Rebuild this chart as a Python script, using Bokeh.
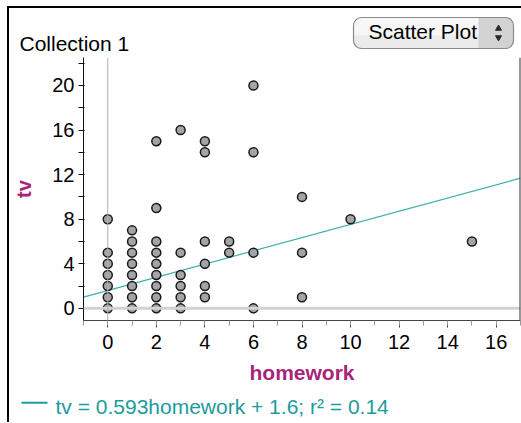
from bokeh.plotting import figure
from bokeh.layouts import column, row
from bokeh.models import Range1d, FixedTicker, Span
from bokeh.core.properties import value
from bokeh.embed import file_html
from bokeh.resources import INLINE

# ---- data ----
homework = [0, 0, 0, 0, 0, 0, 0,
            1, 1, 1, 1, 1, 1, 1, 1,
            2, 2, 2, 2, 2, 2, 2, 2, 2,
            3, 3, 3, 3, 3, 3,
            4, 4, 4, 4, 4, 4,
            5, 5,
            6, 6, 6, 6,
            8, 8, 8,
            10,
            15]
tv = [0, 1, 2, 3, 4, 5, 8,
      0, 1, 2, 3, 4, 5, 6, 7,
      0, 1, 2, 3, 4, 5, 6, 9, 15,
      0, 1, 2, 3, 5, 16,
      1, 2, 4, 6, 14, 15,
      5, 6,
      0, 5, 14, 20,
      1, 5, 10,
      8,
      6]
slope = 0.593
intercept = 1.6
r2 = 0.14
x_ticks = [0, 2, 4, 6, 8, 10, 12, 14, 16]
y_ticks = [0, 4, 8, 12, 16, 20]
collection_name = "Collection 1"
plot_type = "Scatter Plot"

X0, X1 = -1.0, 17.0
Y0, Y1 = -1.09, 22.51

FONT = "Liberation Sans"
MAGENTA = "#a8247a"
TEAL = "#1c9c9c"
W = 512


def blank(height):
    f = figure(width=W, height=height, x_range=Range1d(0, W), y_range=Range1d(0, height),
               x_axis_type=None, y_axis_type=None, output_backend="svg",
               toolbar_location=None, min_border_left=0, min_border_right=0,
               min_border_top=0, min_border_bottom=0)
    f.outline_line_color = None
    return f


# ---- header (collection name + plot type menu) ----
h = blank(49)
h.text(x=[10], y=[14.5], text=[collection_name], text_font=value(FONT),
       text_font_size="21px", text_color="black", text_baseline="middle")
h.quad(left=[344], right=[504], bottom=[9], top=[40], fill_color="#f6f6f6",
       line_color=None, border_radius=8)
h.quad(left=[344], right=[504], bottom=[9], top=[22], fill_color="#ebebeb",
       line_color=None, border_radius=(0, 0, 8, 8))
h.quad(left=[469], right=[504], bottom=[9], top=[40], fill_color="#d2d2d2",
       line_color=None, border_radius=(0, 8, 8, 0))
h.quad(left=[344], right=[504], bottom=[9], top=[40], fill_alpha=0,
       line_color="#8a8a8a", line_width=1.2, border_radius=8)
h.text(x=[359], y=[26.2], text=[plot_type], text_font=value(FONT),
       text_font_size="21px", text_color="black", text_baseline="middle")
h.scatter(x=[489], y=[29], marker="triangle", size=6, color="#2a2a2a")
h.scatter(x=[489], y=[20], marker="inverted_triangle", size=6, color="#2a2a2a")

# ---- main plot ----
p = figure(frame_width=437, frame_height=263, output_backend="svg",
           toolbar_location=None, x_range=Range1d(X0, X1), y_range=Range1d(Y0, Y1),
           min_border_left=74, min_border_right=1, min_border_top=0, min_border_bottom=75)
p.outline_line_color = None
p.xgrid.visible = False
p.ygrid.visible = False

xa = p.xaxis[0]
xa.ticker = FixedTicker(ticks=x_ticks, minor_ticks=list(range(-1, 18)))
xa.axis_line_color = "#444444"
xa.major_tick_line_color = "#444444"
xa.minor_tick_line_color = "#999999"
xa.major_tick_in = 0
xa.major_tick_out = 7
xa.minor_tick_in = 0
xa.minor_tick_out = 5
xa.major_label_text_font = FONT
xa.major_label_text_font_size = "20px"
xa.major_label_text_color = "black"
xa.major_label_standoff = 7
xa.axis_label = "homework"
xa.axis_label_text_font = FONT
xa.axis_label_text_font_style = "bold"
xa.axis_label_text_font_size = "21px"
xa.axis_label_text_color = MAGENTA
xa.axis_label_standoff = 9

ya = p.yaxis[0]
ya.ticker = FixedTicker(ticks=y_ticks, minor_ticks=[2, 6, 10, 14, 18, 22])
ya.axis_line_color = "#111111"
ya.major_tick_line_color = "#111111"
ya.minor_tick_line_color = "#111111"
ya.major_tick_in = 1
ya.major_tick_out = 5
ya.minor_tick_in = 1
ya.minor_tick_out = 5
ya.major_label_text_font = FONT
ya.major_label_text_font_size = "20px"
ya.major_label_text_color = "black"
ya.major_label_standoff = 4
ya.axis_label = "tv"
ya.axis_label_text_font = FONT
ya.axis_label_text_font_style = "bold"
ya.axis_label_text_font_size = "20px"
ya.axis_label_text_color = MAGENTA
ya.axis_label_standoff = 14

p.add_layout(Span(location=0, dimension="width", line_color="#d2d2d2", line_width=3))
p.add_layout(Span(location=0, dimension="height", line_color="#b0b0b0", line_width=1))
p.add_layout(Span(location=X1, dimension="height", line_color="#333333", line_width=2))

lx = [X0, X1]
ly = [slope * v + intercept for v in lx]
p.line(lx, ly, line_color="#3cb0b0", line_width=1.2)

p.scatter(homework, tv, size=9, fill_color="#a4a4a4", line_color="#1a1a1a", line_width=1.5)

# ---- footer (regression equation) ----
ft = blank(27)
ft.line(x=[12, 38], y=[19.7, 19.7], line_color=TEAL, line_width=2)
ft.text(x=[46], y=[16.5], text=[f"tv = {slope}homework + {intercept}; r\u00b2 = {r2}"],
        text_font=value(FONT), text_font_size="21px", text_color=TEAL,
        text_baseline="middle")

layout = column(row(h), row(p), row(ft), spacing=0)
layout.styles = {"border-left": "2px solid black", "border-top": "2px solid black",
                 "margin-left": "7px", "margin-top": "6px"}

open("out.html", "w").write(file_html(layout, INLINE))
